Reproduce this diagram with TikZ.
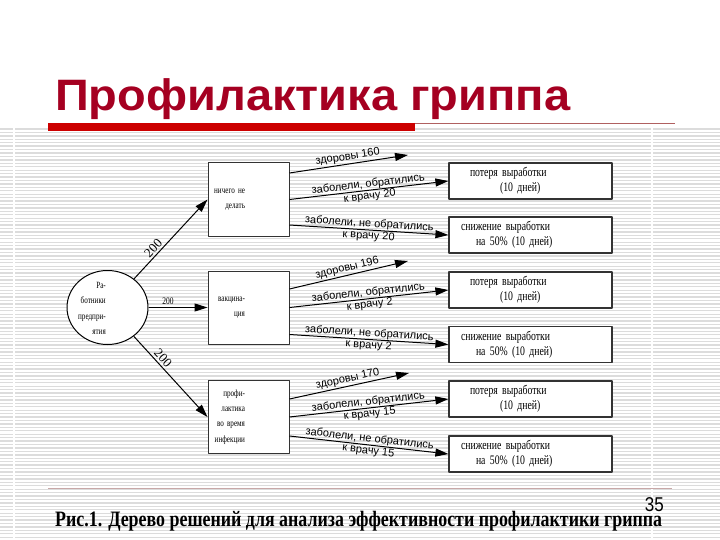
\documentclass[tikz,border=0pt]{standalone}
\usepackage{fontspec}
\setmainfont{Liberation Serif}
\setsansfont{Liberation Sans}
\newfontfamily\narrowserif[FakeStretch=0.75]{Liberation Serif}
\newfontfamily\narrowsans[FakeStretch=0.85]{Liberation Sans}
\usepackage{graphicx}
\usetikzlibrary{arrows.meta,shapes.geometric}
\definecolor{titleRed}{RGB}{165,0,33}
\definecolor{barRed}{RGB}{204,0,0}
\definecolor{ruleRed}{RGB}{176,96,96}
\definecolor{rulePink}{RGB}{200,168,168}
\definecolor{stripeGray}{RGB}{220,220,220}
\newcommand{\lossText}{\hspace*{21pt}потеря выработки\\\hspace*{51pt}(10 дней)}
\newcommand{\halfText}{\hspace*{12pt}снижение выработки\\\hspace*{27pt}на 50\% (10 дней)}
\newcommand{\rpad}{\hspace*{44pt}\mbox{}}
\tikzset{
  optbox/.style={draw=black!80, fill=white, line width=1pt, minimum width=81pt,
    minimum height=73pt, inner xsep=0pt, text width=81pt, align=right,
    font=\narrowserif\fontsize{9.5}{15.3}\selectfont},
  outbox/.style={draw=black!80, fill=white, line width=1.2pt, minimum width=163pt,
    minimum height=36pt, inner xsep=0pt, text width=163pt, align=left,
    font=\narrowserif\fontsize{13}{15}\selectfont},
  branch/.style={-{Triangle[length=13pt,width=8pt]}, line width=1pt},
  lbl/.style={sloped, font=\sffamily\fontsize{11}{12}\selectfont, align=center, inner sep=0pt},
  numlbl/.style={sloped, font=\fontsize{13}{13}\selectfont, inner sep=2pt},
}
\begin{document}
\begin{tikzpicture}
\def\px{1pt}
\begin{scope}[x=\px, y=-\px, line join=round]
  \useasboundingbox (0,0) rectangle (720,540);
  % Striped background
  \begin{scope}[draw=stripeGray, line width=1.3pt]
    \foreach \i in {0,...,119}
      \draw (0,{129+3.43*\i}) -- (720,{129+3.43*\i});
  \end{scope}
  \draw[white, line width=2pt] (14,127) -- (14,540);
  \draw[white, line width=2pt] (652,127) -- (652,540);
  % Title and rules
  \node[anchor=base west, inner sep=0pt, text=titleRed,
    font=\sffamily\bfseries\fontsize{44}{44}\selectfont] (title) at (55,111)
    {\resizebox{515pt}{\height}{Профилактика гриппа}};
  \fill[barRed] (48,123) rectangle (415,131);
  \draw[ruleRed, line width=1pt] (415,123.5) -- (675,123.5);
  \draw[rulePink, line width=1pt] (48,488) -- (672,488);
  % Root
  \node[ellipse, draw, fill=white, line width=1pt, minimum width=81pt, minimum height=74pt] (wrk) at (107.5,307.5) {};
  \node[anchor=east, inner sep=0pt, align=right,
    font=\narrowserif\fontsize{9.5}{15.5}\selectfont] (wrktext) at (106,308.5)
    {Ра-\\ботники\\предпри-\\ятия};
  % Options
  \node[optbox] (nothing) at (248.5,199.5) {ничего не\rpad\\делать\rpad};
  \node[optbox] (vacc) at (248.5,307.5) {вакцина-\rpad\\ция\rpad};
  \node[optbox] (prof) at (248.5,417) {профи-\rpad\\лактика\rpad\\во время\rpad\\инфекции\rpad};
  \draw[branch] (wrk) -- node[numlbl, pos=0.33, anchor=south] {200} (nothing.west);
  \draw[branch] (wrk) -- node[pos=0.33, anchor=south, inner sep=2pt,
    font=\narrowserif\fontsize{10}{10}\selectfont] {200} (vacc.west);
  \draw[branch] (wrk) -- node[numlbl, pos=0.33, anchor=south] {200} (prof.west);
  % Outcomes
  \node[outbox] (loss1) at (530.5,181) {\lossText};
  \node[outbox] (half1) at (530.5,235) {\halfText};
  \node[outbox] (loss2) at (530.5,290) {\lossText};
  \node[outbox] (half2) at (530.5,344.5) {\halfText};
  \node[outbox] (loss3) at (530.5,399) {\lossText};
  \node[outbox] (half3) at (530.5,454) {\halfText};
  \coordinate (well1) at (408,155);
  \coordinate (well2) at (408,261);
  \coordinate (well3) at (409,373);
  % Branches of option 1
  \draw[branch] ([yshift=26.5pt]nothing.east) -- node[lbl, midway, anchor=south, inner sep=1.5pt] {здоровы 160} (well1);
  \draw[branch] (nothing.east) -- node[lbl, midway] {заболели, обратились\\к врачу 20} (loss1.west);
  \draw[branch] ([yshift=-25.5pt]nothing.east) -- node[lbl, midway] {заболели, не обратились\\к врачу 20} (half1.west);
  % Branches of option 2
  \draw[branch] ([yshift=18.5pt]vacc.east) -- node[lbl, midway, anchor=south, inner sep=1.5pt] {здоровы 196} (well2);
  \draw[branch] (vacc.east) -- node[lbl, midway] {заболели, обратились\\к врачу 2} (loss2.west);
  \draw[branch] ([yshift=-27pt]vacc.east) -- node[lbl, midway] {заболели, не обратились\\к врачу 2} (half2.west);
  % Branches of option 3
  \draw[branch] ([yshift=18pt]prof.east) -- node[lbl, midway, anchor=south, inner sep=1.5pt] {здоровы 170} (well3);
  \draw[branch] (prof.east) -- node[lbl, midway] {заболели, обратились\\к врачу 15} (loss3.west);
  \draw[branch] ([yshift=-19pt]prof.east) -- node[lbl, midway] {заболели, не обратились\\к врачу 15} (half3.west);
  % Caption
  \node[anchor=base west, inner sep=0pt, font=\bfseries\fontsize{22}{22}\selectfont] (caption) at (55,526)
    {\resizebox{607pt}{\height}{Рис.1. Дерево решений для анализа эффективности профилактики гриппа}};
  \node[anchor=base east, inner sep=0pt, font=\narrowsans\fontsize{20}{20}\selectfont] (pagenum) at (664,511) {35};
\end{scope}
\end{tikzpicture}
\end{document}
